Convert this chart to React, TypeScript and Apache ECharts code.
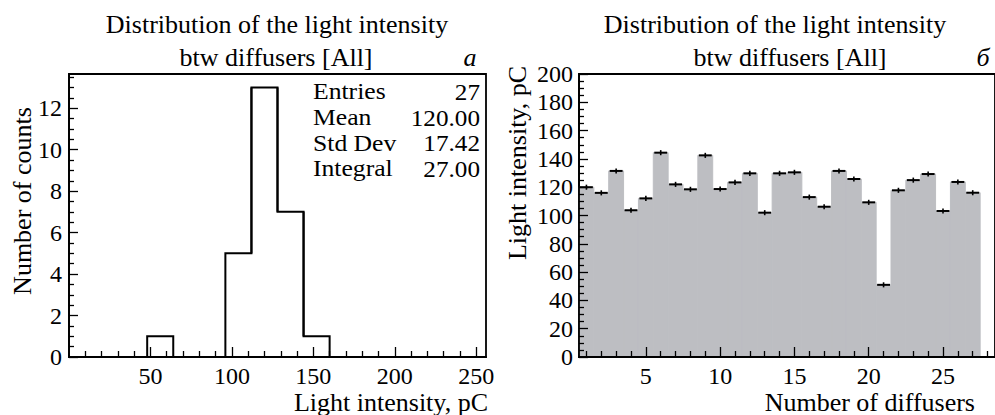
import React, { useEffect, useRef } from "react";
import * as echarts from "echarts";

// ---- Panel (a): histogram of light intensity ----
const histBinStarts = [48, 96, 112, 128, 144];
const histCounts = [1, 5, 13, 7, 1];
const histBinWidth = 16;
const statsLabels = ["Entries", "Mean", "Std Dev", "Integral"];
const statsValues = ["27", "120.00", "17.42", "27.00"];
const leftXTicks = [50, 100, 150, 200, 250];
const leftYTicks = [0, 2, 4, 6, 8, 10, 12];

// ---- Panel (b): light intensity per diffuser ----
const diffusers = [1, 2, 3, 4, 5, 6, 7, 8, 9, 10, 11, 12, 13, 14, 15, 16, 17, 18, 19, 20, 21, 22, 23, 24, 25, 26, 27];
const intensity = [120, 116, 131.5, 103.7, 112.1, 144.4, 122, 118.5, 142.5, 118.7, 123.4, 129.8, 102, 129.8, 130.5, 113, 106.2, 131.5, 125.8, 109.3, 51, 117.8, 125, 129.3, 103.2, 123.7, 116.1];
const intensityErr = [1.8, 1.8, 1.8, 1.8, 1.8, 1.8, 1.8, 1.8, 1.8, 1.8, 1.8, 1.8, 1.8, 1.8, 1.8, 1.8, 1.8, 1.8, 1.8, 1.8, 1.8, 1.8, 1.8, 1.8, 1.8, 1.8, 1.8];
const rightXTicks = [5, 10, 15, 20, 25];
const rightYTicks = [0, 20, 40, 60, 80, 100, 120, 140, 160, 180, 200];

const titleLine1 = "Distribution of the light intensity";
const titleLine2 = "btw diffusers [All]";

const FONT = "'Liberation Serif', 'DejaVu Serif', serif";
const FS_TICK = 24;
const FS_TEXT = 26;
const FS_STATS = 22.5;

function range(a: number, b: number, step: number): number[] {
  const out: number[] = [];
  for (let v = a; v <= b + 1e-9; v += step) out.push(Math.round(v * 1000) / 1000);
  return out;
}

function axisPair(
  dim: "x" | "y",
  gridIndex: number,
  min: number,
  max: number,
  majors: number[],
  minors: number[],
  majorLen: number,
  minorLen: number,
  margin: number
) {
  const position = dim === "x" ? "bottom" : "left";
  const tickStyle = { color: "#000", width: 1.3 };
  const major = {
    type: "value",
    gridIndex,
    position,
    min,
    max,
    z: 10,
    axisLine: { show: true, onZero: false, lineStyle: { color: "#000", width: 1.8 } },
    splitLine: { show: false },
    axisTick: { show: true, inside: true, length: majorLen, customValues: majors, lineStyle: tickStyle },
    axisLabel: {
      show: true,
      customValues: majors,
      fontFamily: FONT,
      fontSize: FS_TICK,
      color: "#000",
      margin,
      showMinLabel: true,
      showMaxLabel: true,
    },
  };
  const minor = {
    type: "value",
    gridIndex,
    position,
    min,
    max,
    z: 10,
    axisLine: { show: false, onZero: false },
    splitLine: { show: false },
    axisTick: { show: true, inside: true, length: minorLen, customValues: minors, lineStyle: tickStyle },
    axisLabel: { show: false },
  };
  return [major, minor];
}

export default function App() {
  const ref = useRef<HTMLDivElement>(null);

  useEffect(() => {
    if (!ref.current) return;
    const chart = echarts.init(ref.current, null, { renderer: "svg" });

    const leftXMinor = range(10, 250, 10).filter((v) => v % 50 !== 0);
    const leftYMinor = range(0.5, 13.5, 0.5).filter((v) => v % 2 !== 0);
    const rightXMinor = range(1, 28, 1).filter((v) => v % 5 !== 0);
    const rightYMinor = range(5, 195, 5).filter((v) => v % 20 !== 0);

    const [lx0, lx1] = axisPair("x", 0, 0, 256, leftXTicks, leftXMinor, 10, 6, 7);
    const [ly0, ly1] = axisPair("y", 0, 0, 13.65, leftYTicks, leftYMinor, 9, 5, 7);
    const [rx0, rx1] = axisPair("x", 1, 0.5, 28.5, rightXTicks, rightXMinor, 10, 6, 7);
    const [ry0, ry1] = axisPair("y", 1, 0, 200, rightYTicks, rightYMinor, 9, 5, 6);

    // each bin: [low, high, count, count of bin on the left edge, count of bin on the right edge]
    const histData = histBinStarts.map((s, i) => {
      const prev = i > 0 && histBinStarts[i - 1] + histBinWidth === s ? histCounts[i - 1] : 0;
      const next =
        i < histBinStarts.length - 1 && histBinStarts[i + 1] === s + histBinWidth ? histCounts[i + 1] : 0;
      return [s, s + histBinWidth, histCounts[i], prev, next];
    });
    const barData = diffusers.map((d, i) => [d, intensity[i], intensityErr[i]]);

    const txt = (text: string, x: number, y: number, align: string, size: number, extra: any = {}) => ({
      type: "text",
      x,
      y,
      z: 20,
      style: {
        text,
        fontFamily: FONT,
        fontSize: size,
        lineHeight: 22,
        fill: "#000",
        align,
        verticalAlign: "middle",
        ...extra,
      },
    });

    const graphics: any[] = [
      txt(titleLine1, 277, 24, "center", FS_TEXT),
      txt(titleLine2, 276, 57, "center", FS_TEXT),
      txt("а", 470, 57, "center", FS_TEXT, { fontStyle: "italic" }),
      txt(titleLine1, 775, 24, "center", FS_TEXT),
      txt(titleLine2, 790, 57, "center", FS_TEXT),
      txt("б", 983, 57, "center", FS_TEXT, { fontStyle: "italic" }),
      txt("Light intensity, pC", 488, 402, "right", FS_TEXT),
      txt("Number of diffusers", 975, 402, "right", FS_TEXT),
      { ...txt("Number of counts", 22, 201, "center", FS_TEXT), rotation: Math.PI / 2 },
      { ...txt("Light intensity, pC", 517, 163, "center", FS_TEXT), rotation: Math.PI / 2 },
    ];
    const statRows = [92, 118, 143.5, 169];
    statsLabels.forEach((l, i) => {
      graphics.push({ ...txt(l, 313, statRows[i], "left", FS_STATS, { lineHeight: 20 }), scaleX: 1.14 });
      graphics.push({ ...txt(statsValues[i], 480, statRows[i], "right", FS_STATS, { lineHeight: 20 }), scaleX: 1.12 });
    });

    chart.setOption({
      animation: false,
      grid: [
        { left: 69, top: 74, width: 417, height: 283, show: true, borderColor: "#000", borderWidth: 1.8, backgroundColor: "transparent" },
        { left: 579, top: 74, width: 420, height: 283, show: true, borderColor: "#000", borderWidth: 1.8, backgroundColor: "transparent" },
      ],
      xAxis: [lx0, lx1, rx0, rx1],
      yAxis: [ly0, ly1, ry0, ry1],
      series: [
        {
          type: "custom",
          xAxisIndex: 0,
          yAxisIndex: 0,
          data: histData,
          encode: { x: [0, 1], y: 2 },
          renderItem: (params: any, api: any) => {
            const x0 = api.value(0);
            const x1 = api.value(1);
            const c = api.value(2);
            const prev = api.value(3);
            const next = api.value(4);
            const p0 = api.coord([x0, prev]);
            const p1 = api.coord([x0, c]);
            const p2 = api.coord([x1, c]);
            const p3 = api.coord([x1, next]);
            return {
              type: "polyline",
              shape: { points: [p0, p1, p2, p3] },
              style: { stroke: "#000", lineWidth: 2, fill: "none" },
            };
          },
        },
        {
          type: "custom",
          xAxisIndex: 2,
          yAxisIndex: 2,
          data: barData,
          encode: { x: 0, y: 1 },
          renderItem: (params: any, api: any) => {
            const d = api.value(0);
            const v = api.value(1);
            const e = api.value(2);
            const a = api.coord([d - 0.5, 0]);
            const b = api.coord([d + 0.5, v]);
            const eu = api.coord([d, v + e]);
            const el = api.coord([d, v - e]);
            return {
              type: "group",
              children: [
                {
                  type: "rect",
                  shape: { x: a[0], y: b[1], width: b[0] - a[0], height: a[1] - b[1] },
                  style: { fill: "#bdbec2", stroke: "#bdbec2", lineWidth: 1 },
                },
                {
                  type: "line",
                  shape: { x1: a[0] + 1, y1: b[1], x2: b[0] - 1, y2: b[1] },
                  style: { stroke: "#000", lineWidth: 2 },
                },
                {
                  type: "line",
                  shape: { x1: eu[0], y1: eu[1], x2: el[0], y2: el[1] },
                  style: { stroke: "#000", lineWidth: 1.6 },
                },
              ],
            };
          },
        },
      ],
      graphic: graphics,
    });

    return () => chart.dispose();
  }, []);

  return (
    <div
      ref={ref}
      style={{ position: "absolute", left: 0, top: 0, width: 995, height: 415, background: "#fff" }}
    />
  );
}
